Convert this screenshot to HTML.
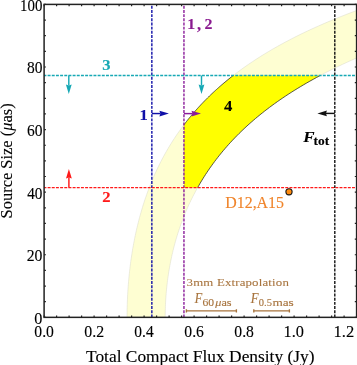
<!DOCTYPE html>
<html><head><meta charset="utf-8"><style>html,body{margin:0;padding:0;background:#fff;}svg{display:block;will-change:transform;}</style></head>
<body><svg width="357" height="365" viewBox="0 0 357 365">
<rect width="357" height="365" fill="#fff"/>
<path d="M127.05,317.35 127.06,314.79 127.08,312.24 127.12,309.68 127.17,307.12 127.24,304.57 127.33,302.01 127.43,299.45 127.54,296.90 127.67,294.34 127.82,291.78 127.98,289.23 128.16,286.67 128.35,284.11 128.56,281.56 128.79,279.00 129.03,276.44 129.29,273.89 129.56,271.33 129.85,268.77 130.16,266.22 130.49,263.66 130.83,261.10 131.19,258.55 131.57,255.99 131.97,253.43 132.38,250.87 132.81,248.32 133.26,245.76 133.73,243.20 134.22,240.65 134.73,238.09 135.25,235.53 135.80,232.98 136.37,230.42 136.96,227.86 137.57,225.31 138.20,222.75 138.85,220.19 139.52,217.64 140.22,215.08 140.94,212.52 141.68,209.97 142.45,207.41 143.24,204.85 144.06,202.30 144.90,199.74 145.77,197.18 146.66,194.63 147.58,192.07 148.53,189.51 149.51,186.96 150.51,184.40 151.54,181.84 152.61,179.29 153.70,176.73 154.83,174.17 155.99,171.62 157.18,169.06 158.40,166.50 159.66,163.95 160.96,161.39 162.29,158.83 163.66,156.28 165.07,153.72 166.51,151.16 168.00,148.61 169.53,146.05 171.10,143.49 172.71,140.94 174.37,138.38 176.07,135.82 177.82,133.26 179.62,130.71 181.46,128.15 183.36,125.59 185.31,123.04 187.32,120.48 189.37,117.92 191.49,115.37 193.67,112.81 195.90,110.25 198.20,107.70 200.56,105.14 202.98,102.58 205.47,100.03 208.04,97.47 210.67,94.91 213.38,92.36 216.16,89.80 219.02,87.24 221.96,84.69 224.98,82.13 228.09,79.57 231.29,77.02 234.57,74.46 237.96,71.90 241.43,69.35 245.01,66.79 248.69,64.23 252.47,61.68 256.37,59.12 260.37,56.56 264.49,54.01 268.74,51.45 273.10,48.89 277.60,46.34 282.22,43.78 286.99,41.22 291.89,38.67 296.94,36.11 302.14,33.55 307.49,31.00 313.01,28.44 318.69,25.88 324.54,23.33 330.58,20.77 336.79,18.21 343.19,15.66 349.80,13.10 356.60,10.54 356.60,10.54 356.60,57.97 356.60,57.97 351.72,60.13 346.96,62.29 342.31,64.45 337.77,66.62 333.34,68.78 329.01,70.94 324.78,73.10 320.66,75.26 316.63,77.42 312.69,79.58 308.85,81.75 305.09,83.91 301.42,86.07 297.84,88.23 294.34,90.39 290.92,92.55 287.58,94.72 284.32,96.88 281.13,99.04 278.01,101.20 274.97,103.36 271.99,105.52 269.09,107.68 266.24,109.85 263.47,112.01 260.76,114.17 258.11,116.33 255.51,118.49 252.98,120.65 250.51,122.81 248.09,124.98 245.73,127.14 243.42,129.30 241.16,131.46 238.96,133.62 236.80,135.78 234.69,137.95 232.63,140.11 230.62,142.27 228.65,144.43 226.73,146.59 224.85,148.75 223.02,150.91 221.23,153.08 219.47,155.24 217.76,157.40 216.09,159.56 214.46,161.72 212.86,163.88 211.30,166.04 209.78,168.21 208.29,170.37 206.84,172.53 205.42,174.69 204.03,176.85 202.68,179.01 201.36,181.18 200.07,183.34 198.81,185.50 197.59,187.66 196.39,189.82 195.22,191.98 194.08,194.14 192.97,196.31 191.89,198.47 190.83,200.63 189.80,202.79 188.79,204.95 187.82,207.11 186.86,209.27 185.94,211.44 185.03,213.60 184.16,215.76 183.30,217.92 182.47,220.08 181.66,222.24 180.88,224.41 180.11,226.57 179.37,228.73 178.65,230.89 177.95,233.05 177.28,235.21 176.62,237.37 175.99,239.54 175.37,241.70 174.78,243.86 174.20,246.02 173.65,248.18 173.11,250.34 172.59,252.50 172.09,254.67 171.61,256.83 171.15,258.99 170.71,261.15 170.29,263.31 169.88,265.47 169.49,267.64 169.12,269.80 168.77,271.96 168.43,274.12 168.11,276.28 167.81,278.44 167.53,280.60 167.26,282.77 167.01,284.93 166.77,287.09 166.55,289.25 166.35,291.41 166.17,293.57 166.00,295.73 165.85,297.90 165.71,300.06 165.59,302.22 165.49,304.38 165.40,306.54 165.33,308.70 165.27,310.87 165.23,313.03 165.21,315.19 165.20,317.35Z" fill="#fefed2" stroke="#d8d8c8" stroke-width="0.5"/>
<path d="M183.95,124.82 184.58,123.99 185.21,123.17 185.84,122.35 186.49,121.53 187.13,120.71 187.79,119.89 188.45,119.07 189.11,118.25 189.78,117.43 190.46,116.61 191.14,115.79 191.83,114.97 192.52,114.14 193.22,113.32 193.93,112.50 194.64,111.68 195.36,110.86 196.09,110.04 196.82,109.22 197.56,108.40 198.31,107.58 199.06,106.76 199.82,105.94 200.58,105.12 201.35,104.29 202.13,103.47 202.92,102.65 203.71,101.83 204.51,101.01 205.31,100.19 206.13,99.37 206.95,98.55 207.78,97.73 208.61,96.91 209.45,96.09 210.30,95.27 211.16,94.44 212.03,93.62 212.90,92.80 213.78,91.98 214.67,91.16 215.56,90.34 216.47,89.52 217.38,88.70 218.30,87.88 219.23,87.06 220.17,86.24 221.11,85.41 222.07,84.59 223.03,83.77 224.00,82.95 224.98,82.13 225.97,81.31 226.97,80.49 227.97,79.67 228.99,78.85 230.01,78.03 231.05,77.21 232.09,76.39 233.14,75.56 320.09,75.56 316.61,77.43 313.21,79.30 309.87,81.17 306.60,83.03 303.39,84.90 300.26,86.77 297.18,88.64 294.16,90.50 291.21,92.37 288.31,94.24 285.47,96.10 282.69,97.97 279.96,99.84 277.29,101.71 274.67,103.57 272.10,105.44 269.59,107.31 267.12,109.18 264.70,111.04 262.33,112.91 260.00,114.78 257.73,116.64 255.49,118.51 253.30,120.38 251.15,122.25 249.05,124.11 246.99,125.98 244.96,127.85 242.98,129.72 241.04,131.58 239.13,133.45 237.26,135.32 235.43,137.18 233.63,139.05 231.87,140.92 230.15,142.79 228.45,144.65 226.79,146.52 225.17,148.39 223.57,150.26 222.01,152.12 220.48,153.99 218.98,155.86 217.51,157.72 216.07,159.59 214.65,161.46 213.27,163.33 211.91,165.19 210.58,167.06 209.28,168.93 208.00,170.80 206.75,172.66 205.52,174.53 204.32,176.40 203.15,178.26 201.99,180.13 200.87,182.00 199.76,183.87 198.68,185.73 197.62,187.60 183.95,187.60Z" fill="#ffff00"/>
<polyline points="183.95,124.82 184.58,123.99 185.21,123.17 185.84,122.35 186.49,121.53 187.13,120.71 187.79,119.89 188.45,119.07 189.11,118.25 189.78,117.43 190.46,116.61 191.14,115.79 191.83,114.97 192.52,114.14 193.22,113.32 193.93,112.50 194.64,111.68 195.36,110.86 196.09,110.04 196.82,109.22 197.56,108.40 198.31,107.58 199.06,106.76 199.82,105.94 200.58,105.12 201.35,104.29 202.13,103.47 202.92,102.65 203.71,101.83 204.51,101.01 205.31,100.19 206.13,99.37 206.95,98.55 207.78,97.73 208.61,96.91 209.45,96.09 210.30,95.27 211.16,94.44 212.03,93.62 212.90,92.80 213.78,91.98 214.67,91.16 215.56,90.34 216.47,89.52 217.38,88.70 218.30,87.88 219.23,87.06 220.17,86.24 221.11,85.41 222.07,84.59 223.03,83.77 224.00,82.95 224.98,82.13 225.97,81.31 226.97,80.49 227.97,79.67 228.99,78.85 230.01,78.03 231.05,77.21 232.09,76.39 233.14,75.56" fill="none" stroke="#333" stroke-width="0.8"/>
<polyline points="320.09,75.56 316.61,77.43 313.21,79.30 309.87,81.17 306.60,83.03 303.39,84.90 300.26,86.77 297.18,88.64 294.16,90.50 291.21,92.37 288.31,94.24 285.47,96.10 282.69,97.97 279.96,99.84 277.29,101.71 274.67,103.57 272.10,105.44 269.59,107.31 267.12,109.18 264.70,111.04 262.33,112.91 260.00,114.78 257.73,116.64 255.49,118.51 253.30,120.38 251.15,122.25 249.05,124.11 246.99,125.98 244.96,127.85 242.98,129.72 241.04,131.58 239.13,133.45 237.26,135.32 235.43,137.18 233.63,139.05 231.87,140.92 230.15,142.79 228.45,144.65 226.79,146.52 225.17,148.39 223.57,150.26 222.01,152.12 220.48,153.99 218.98,155.86 217.51,157.72 216.07,159.59 214.65,161.46 213.27,163.33 211.91,165.19 210.58,167.06 209.28,168.93 208.00,170.80 206.75,172.66 205.52,174.53 204.32,176.40 203.15,178.26 201.99,180.13 200.87,182.00 199.76,183.87 198.68,185.73 197.62,187.60" fill="none" stroke="#333" stroke-width="0.8"/>
<line x1="151.85" y1="317.35" x2="151.85" y2="4.40" stroke="#1010a8" stroke-width="1.4" stroke-dasharray="2.95 1.22"/>
<line x1="183.95" y1="317.35" x2="183.95" y2="4.40" stroke="#8a1c9a" stroke-width="1.4" stroke-dasharray="2.95 1.22"/>
<line x1="334.80" y1="317.35" x2="334.80" y2="4.40" stroke="#111" stroke-width="1.4" stroke-dasharray="2.95 1.22"/>
<line x1="44.10" y1="75.56" x2="356.60" y2="75.56" stroke="#17a9b5" stroke-width="1.4" stroke-dasharray="2.95 1.22" stroke-dashoffset="0.67"/>
<line x1="44.10" y1="187.60" x2="356.60" y2="187.60" stroke="#ff1a1a" stroke-width="1.4" stroke-dasharray="2.95 1.22" stroke-dashoffset="0.67"/>
<line x1="68.80" y1="75.56" x2="68.80" y2="85.50" stroke="#17a9b5" stroke-width="1.45"/><path d="M68.80,94.00 L65.90,84.50 L68.80,85.45 L71.70,84.50Z" fill="#17a9b5"/>
<line x1="201.50" y1="75.56" x2="201.50" y2="85.60" stroke="#17a9b5" stroke-width="1.45"/><path d="M201.50,94.10 L198.60,84.60 L201.50,85.55 L204.40,84.60Z" fill="#17a9b5"/>
<line x1="68.90" y1="187.60" x2="68.90" y2="177.50" stroke="#ff1a1a" stroke-width="1.45"/><path d="M68.90,169.00 L71.80,178.50 L68.90,177.55 L66.00,178.50Z" fill="#ff1a1a"/>
<line x1="151.85" y1="113.55" x2="160.40" y2="113.55" stroke="#1010a8" stroke-width="1.45"/><path d="M168.90,113.55 L159.40,116.45 L160.35,113.55 L159.40,110.65Z" fill="#1010a8"/>
<line x1="183.95" y1="113.60" x2="192.50" y2="113.60" stroke="#8a1c9a" stroke-width="1.45"/><path d="M201.00,113.60 L191.50,116.50 L192.45,113.60 L191.50,110.70Z" fill="#8a1c9a"/>
<line x1="334.80" y1="113.40" x2="325.90" y2="113.40" stroke="#111" stroke-width="1.45"/><path d="M317.40,113.40 L326.90,110.50 L325.95,113.40 L326.90,116.30Z" fill="#111"/>
<circle cx="289" cy="191.8" r="3.1" fill="#ff8c10" stroke="#111" stroke-width="1.1"/>
<g font-family="&quot;Liberation Serif&quot;, serif"><text transform="matrix(1.0143,0,0,1.0000,34.29,323.85)" font-size="16" fill="#000" stroke="#000" stroke-width="0.119">0</text>
<text transform="matrix(0.9831,0,0,1.0000,26.66,261.26)" font-size="16" fill="#000" stroke="#000" stroke-width="0.121">20</text>
<text transform="matrix(0.9508,0,0,1.0000,27.16,198.67)" font-size="16" fill="#000" stroke="#000" stroke-width="0.123">40</text>
<text transform="matrix(0.9667,0,0,1.0000,26.92,136.08)" font-size="16" fill="#000" stroke="#000" stroke-width="0.122">60</text>
<text transform="matrix(0.9667,0,0,1.0000,26.92,73.49)" font-size="16" fill="#000" stroke="#000" stroke-width="0.122">80</text>
<text transform="matrix(0.9303,0,0,1.0000,20.04,10.90)" font-size="16" fill="#000" stroke="#000" stroke-width="0.124">100</text>
<text transform="matrix(0.9789,0,0,1.0182,34.31,337.05)" font-size="16" fill="#000" stroke="#000" stroke-width="0.120">0.0</text>
<text transform="matrix(0.9920,0,0,1.0182,84.30,337.05)" font-size="16" fill="#000" stroke="#000" stroke-width="0.119">0.2</text>
<text transform="matrix(0.9662,0,0,1.0182,134.32,337.05)" font-size="16" fill="#000" stroke="#000" stroke-width="0.121">0.4</text>
<text transform="matrix(0.9789,0,0,1.0182,184.31,337.05)" font-size="16" fill="#000" stroke="#000" stroke-width="0.120">0.6</text>
<text transform="matrix(0.9789,0,0,1.0182,234.31,337.05)" font-size="16" fill="#000" stroke="#000" stroke-width="0.120">0.8</text>
<text transform="matrix(1.0192,0,0,1.0182,283.53,337.05)" font-size="16" fill="#000" stroke="#000" stroke-width="0.118">1.0</text>
<text transform="matrix(1.0333,0,0,1.0182,333.51,337.05)" font-size="16" fill="#000" stroke="#000" stroke-width="0.117">1.2</text>
<text transform="matrix(1.1077,0,0,1.0244,102.35,70.04)" font-size="15" font-weight="bold" fill="#17a9b5" stroke="#17a9b5" stroke-width="0.113">3</text>
<text transform="matrix(1.1077,0,0,1.0300,102.35,201.60)" font-size="15" font-weight="bold" fill="#ff1a1a" stroke="#ff1a1a" stroke-width="0.112">2</text>
<text transform="matrix(1.1091,0,0,1.0200,139.41,120.30)" font-size="15" font-weight="bold" fill="#1010a8" stroke="#1010a8" stroke-width="0.113">1</text>
<text transform="matrix(1.0545,0,0,1.0100,187.18,29.40)" font-size="15" font-weight="bold" fill="#8a1a90" stroke="#8a1a90" stroke-width="0.116">1</text>
<text transform="matrix(1.1000,0,0,1.1778,197.03,29.95)" font-size="15" font-weight="bold" fill="#8a1a90" stroke="#8a1a90" stroke-width="0.105">,</text>
<text transform="matrix(1.0615,0,0,1.0000,204.57,29.40)" font-size="15" font-weight="bold" fill="#8a1a90" stroke="#8a1a90" stroke-width="0.116">2</text>
<text transform="matrix(1.1143,0,0,0.9800,224.02,110.60)" font-size="15" font-weight="bold" fill="#000" stroke="#000" stroke-width="0.115">4</text>
<text transform="matrix(1.1282,0,0,1.0200,303.30,141.60)" font-size="15" font-weight="bold" font-style="italic" fill="#000" stroke="#000" stroke-width="0.112">F</text>
<text transform="matrix(1.0737,0,0,0.9600,313.48,145.11)" font-size="12.5" font-weight="bold" fill="#000" stroke="#000" stroke-width="0.118">tot</text>
<text transform="matrix(1.1373,0,0,1.1289,225.22,207.94)" font-size="14" fill="#f0842a" stroke="#f0842a" stroke-width="0.106">D12,A15</text>
<text transform="matrix(1.15,0,0,1,186.6,286.3)" font-size="11.2" fill="#a8743e" stroke="#a8743e" stroke-width="0.08" textLength="88.9" lengthAdjust="spacing">3mm Extrapolation</text>
<text transform="matrix(0.8211,0,0,0.9600,194.71,302.80)" font-size="15" font-style="italic" fill="#a8743e" stroke="#a8743e" stroke-width="0.135">F</text>
<text transform="matrix(1.1077,0,0,0.9517,202.40,305.91)" font-size="10.5" fill="#a8743e" stroke="#a8743e" stroke-width="0.117">60</text>
<text transform="matrix(1.1636,0,0,0.9517,215.25,306.11)" font-size="10.5" fill="#a8743e" stroke="#a8743e" stroke-width="0.113"><tspan font-style="italic">μ</tspan>as</text>
<text transform="matrix(0.8526,0,0,0.9600,250.81,302.80)" font-size="15" font-style="italic" fill="#a8743e" stroke="#a8743e" stroke-width="0.132">F</text>
<text transform="matrix(1.0000,0,0,0.9103,258.80,305.92)" font-size="10.5" fill="#a8743e" stroke="#a8743e" stroke-width="0.126">0.5</text>
<text transform="matrix(1.2615,0,0,0.9143,272.43,305.92)" font-size="10.5" fill="#a8743e" stroke="#a8743e" stroke-width="0.110">mas</text></g>
<path d="M186.4,310.85H236.4M186.4,309.2v3.3M236.4,309.2v3.3M253.8,310.9H289.4M253.8,309.25v3.3M289.4,309.25v3.3" stroke="#a8743e" stroke-width="1.35" fill="none"/>
<rect x="44.10" y="4.40" width="312.50" height="312.95" fill="none" stroke="#222" stroke-width="1.5"/>
<path d="M44.10,317.35v-1.8M44.10,4.40v1.8M56.60,317.35v-1.8M56.60,4.40v1.8M69.10,317.35v-1.8M69.10,4.40v1.8M81.60,317.35v-1.8M81.60,4.40v1.8M94.10,317.35v-1.8M94.10,4.40v1.8M106.60,317.35v-1.8M106.60,4.40v1.8M119.10,317.35v-1.8M119.10,4.40v1.8M131.60,317.35v-1.8M131.60,4.40v1.8M144.10,317.35v-1.8M144.10,4.40v1.8M156.60,317.35v-1.8M156.60,4.40v1.8M169.10,317.35v-1.8M169.10,4.40v1.8M181.60,317.35v-1.8M181.60,4.40v1.8M194.10,317.35v-1.8M194.10,4.40v1.8M206.60,317.35v-1.8M206.60,4.40v1.8M219.10,317.35v-1.8M219.10,4.40v1.8M231.60,317.35v-1.8M231.60,4.40v1.8M244.10,317.35v-1.8M244.10,4.40v1.8M256.60,317.35v-1.8M256.60,4.40v1.8M269.10,317.35v-1.8M269.10,4.40v1.8M281.60,317.35v-1.8M281.60,4.40v1.8M294.10,317.35v-1.8M294.10,4.40v1.8M306.60,317.35v-1.8M306.60,4.40v1.8M319.10,317.35v-1.8M319.10,4.40v1.8M331.60,317.35v-1.8M331.60,4.40v1.8M344.10,317.35v-1.8M344.10,4.40v1.8M356.60,317.35v-1.8M356.60,4.40v1.8M44.10,317.35h1.8M356.60,317.35h-1.8M44.10,301.70h1.8M356.60,301.70h-1.8M44.10,286.06h1.8M356.60,286.06h-1.8M44.10,270.41h1.8M356.60,270.41h-1.8M44.10,254.76h1.8M356.60,254.76h-1.8M44.10,239.11h1.8M356.60,239.11h-1.8M44.10,223.47h1.8M356.60,223.47h-1.8M44.10,207.82h1.8M356.60,207.82h-1.8M44.10,192.17h1.8M356.60,192.17h-1.8M44.10,176.52h1.8M356.60,176.52h-1.8M44.10,160.88h1.8M356.60,160.88h-1.8M44.10,145.23h1.8M356.60,145.23h-1.8M44.10,129.58h1.8M356.60,129.58h-1.8M44.10,113.93h1.8M356.60,113.93h-1.8M44.10,98.29h1.8M356.60,98.29h-1.8M44.10,82.64h1.8M356.60,82.64h-1.8M44.10,66.99h1.8M356.60,66.99h-1.8M44.10,51.34h1.8M356.60,51.34h-1.8M44.10,35.69h1.8M356.60,35.69h-1.8M44.10,20.05h1.8M356.60,20.05h-1.8M44.10,4.40h1.8M356.60,4.40h-1.8" stroke="#222" stroke-width="1.2" fill="none"/>
<g font-family="'Liberation Serif', serif" font-size="16" fill="#000" stroke="#000" stroke-width="0.12">
<text x="86" y="362" textLength="228.5" lengthAdjust="spacingAndGlyphs">Total Compact Flux Density (Jy)</text>
<text transform="translate(12,218.4) rotate(-90)" textLength="115" lengthAdjust="spacingAndGlyphs">Source Size (<tspan font-style="italic">μ</tspan>as)</text>
</g>
</svg></body></html>
